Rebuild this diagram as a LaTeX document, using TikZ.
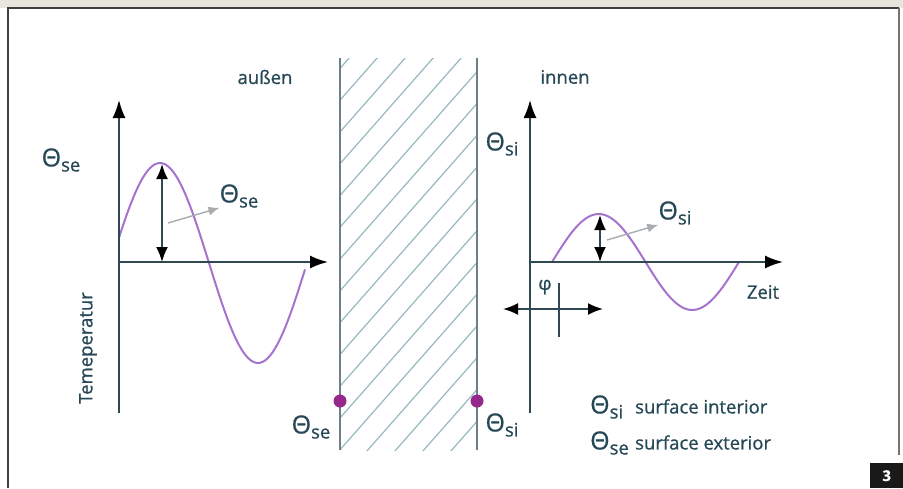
\documentclass[tikz,border=0pt]{standalone}
\usepackage{fontspec}
\setmainfont{Open Sans}[FakeBold=0.8]
\usetikzlibrary{arrows.meta, positioning}
\definecolor{textteal}{RGB}{38,72,86}
\definecolor{axisgray}{RGB}{48,72,82}
\definecolor{wavepurple}{RGB}{165,115,205}
\definecolor{dotpurple}{RGB}{150,40,140}
\definecolor{wallgray}{RGB}{110,128,134}
\definecolor{hatchteal}{RGB}{150,185,192}
\definecolor{pointgray}{RGB}{168,172,175}
\definecolor{bandgray}{RGB}{230,230,220}
\tikzstyle{axisline} = [draw=axisgray, line width=1.8pt, -{Latex[length=18pt,width=13pt,color=black]}]
\tikzstyle{amplitude} = [draw=axisgray, line width=1.8pt, {Latex[length=15pt,width=12pt,color=black]}-{Latex[length=15pt,width=12pt,color=black]}]
\tikzstyle{pointer} = [draw=pointgray, line width=1.4pt, -{Latex[length=11pt,width=9pt]}]
\tikzstyle{txt} = [text=textteal, font=\fontsize{18.5}{21}\selectfont, inner sep=0pt]
\tikzstyle{wave} = [draw=wavepurple, line width=2pt]
\tikzstyle{wall} = [draw=wallgray, line width=2.2pt]
\tikzstyle{hatch} = [draw=hatchteal, line width=1.2pt]
\tikzstyle{surfdot} = [circle, fill=dotpurple, minimum size=13pt, inner sep=0pt]
\newcommand{\Th}[1]{{\fontsize{25}{26}\selectfont Θ}\raisebox{-5pt}{#1}}

\begin{document}
\begin{tikzpicture}[x=1pt, y=-1pt]
\useasboundingbox (0,0) rectangle (903,488);

% frame
\fill[bandgray] (0,0) rectangle (903,8);
\draw[line width=2pt, black!75] (8,488) -- (8,8) -- (899,8);
\draw[line width=2pt, black!55] (899,8) -- (899,455);
\node (badge) [fill=black!90, text=white, font=\bfseries\fontsize{15}{16}\selectfont, minimum width=33pt, minimum height=25pt, inner sep=0pt, anchor=north west] at (870,463) {3};

% wall
\begin{scope}
\clip (340,58) rectangle (477,450);
\foreach \i in {-5,23,...,475}
  \draw[hatch] (\i,460) -- ++(370,-420);
\end{scope}
\coordinate (wlt) at (340,58);
\coordinate (wlb) at (340,450);
\coordinate (wrt) at (477,58);
\coordinate (wrb) at (477,450);
\draw[wall] (wlt) -- (wlb);
\draw[wall] (wrt) -- (wrb);
\node (dotse) [surfdot] at (340,401) {};
\node (dotsi) [surfdot] at (477,401) {};
\node (wallse) [txt] at (311,427) {\Th{se}};
\node (wallsi) [txt] at (502,425) {\Th{si}};

% outside
\node (aussen) [txt] at (265,77) {außen};
\coordinate (lorig) at (119,262);
\coordinate (ltop) at (119,100);
\coordinate (lbot) at (119,413);
\coordinate (lend) at (328,262);
\draw[wave] plot[domain=119:305, samples=80] (\x, {263-100*cos((\x-160)/196*360)});
\draw[axisline] (lbot) -- (ltop);
\draw[axisline] (lorig) -- (lend);
\node (lyse) [txt] at (61,160) {\Th{se}};
\node (temp) [txt, rotate=90] at (88,348) {Temeperatur};
\coordinate (lpeak) at (162,164);
\coordinate (lbase) at (162,262);
\draw[amplitude] (lbase) -- (lpeak);
\node (lampl) [txt] at (239,196) {\Th{se}};
\coordinate (lpt) at (168,223);
\draw[pointer] (lpt) -- (lampl.south west);

% inside
\node (innen) [txt] at (565,77) {innen};
\coordinate (rorig) at (530,262);
\coordinate (rtop) at (530,100);
\coordinate (rbot) at (530,413);
\coordinate (rend) at (783,262);
\draw[wave] plot[domain=552:739, samples=80] (\x, {262-48*sin((\x-552)/187*360)});
\draw[axisline] (rbot) -- (rtop);
\draw[axisline] (rorig) -- (rend);
\node (ryse) [txt] at (502,144) {\Th{si}};
\node (zeit) [txt] at (763,292) {Zeit};
\coordinate (rpeak) at (600,215);
\coordinate (rbase) at (600,262);
\draw[amplitude] (rbase) -- (rpeak);
\node (rampl) [txt] at (675,213) {\Th{si}};
\coordinate (rpt) at (607,240);
\draw[pointer] (rpt) -- (rampl.south west);

% phase shift
\node (phi) [txt] at (545,287) {φ};
\coordinate (phl) at (503,309);
\coordinate (phr) at (603,309);
\draw[amplitude] (phl) -- (phr);
\draw[draw=axisgray, line width=1.8pt] (559,283) -- (559,337);

% legend
\node (legsi) [txt, anchor=west] at (590,407) {\makebox[45pt][l]{\Th{si}}surface interior};
\node (legse) [txt, anchor=west] at (590,443) {\makebox[45pt][l]{\Th{se}}surface exterior};

\end{tikzpicture}
\end{document}
